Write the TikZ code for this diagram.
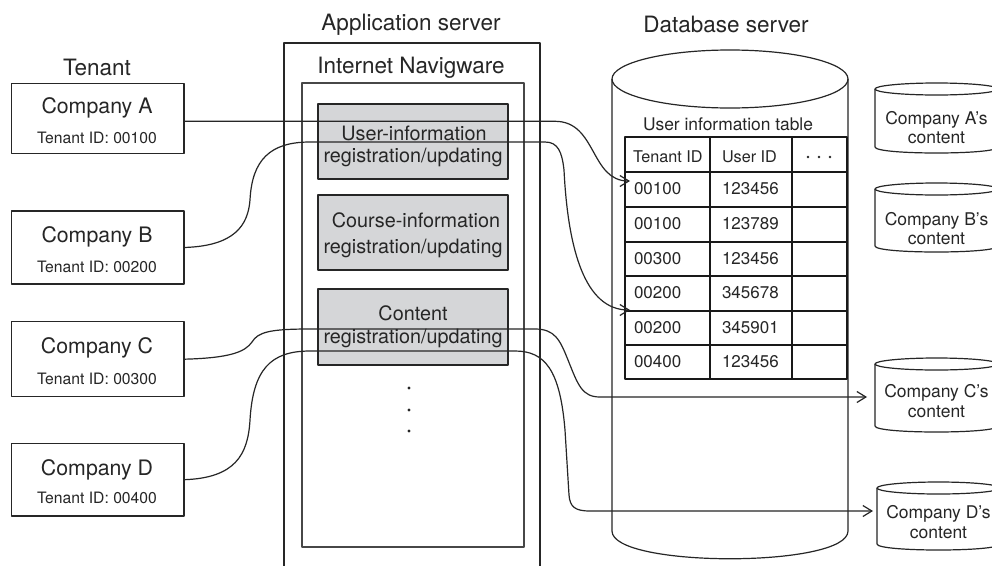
\documentclass[tikz,border=0pt]{standalone}
\usepackage{fontspec}
\setmainfont{TeX Gyre Heros}
\usetikzlibrary{arrows.meta}
\definecolor{ln}{HTML}{262626}
\definecolor{gfill}{HTML}{D5D6D8}
\begin{document}
\begin{tikzpicture}[x=1pt,y=-1pt, line join=round,
  every node/.style={inner sep=0pt, outer sep=0pt, text=ln},
  title/.style={font=\fontsize{22.5}{27}\selectfont, anchor=base},
  comp/.style={draw=ln, line width=1.2pt, minimum width=172.5pt},
  cname/.style={font=\fontsize{21.3}{25}\selectfont, anchor=base},
  cid/.style={font=\fontsize{15.7}{19}\selectfont, anchor=base},
  gbox/.style={draw=ln, fill=gfill, line width=1.3pt, minimum width=190pt, minimum height=75pt},
  gtext/.style={font=\fontsize{19.8}{24}\selectfont, anchor=base},
  tcell/.style={font=\fontsize{17}{20}\selectfont, anchor=base west},
  thead/.style={font=\fontsize{16.2}{20}\selectfont, anchor=base west},
  ctext/.style={font=\fontsize{17.5}{21}\selectfont, anchor=base},
  cyl/.style={draw=ln, line width=1.2pt},
  cylnode/.style={minimum width=123pt},
  conn/.style={draw=ln, line width=1.2pt},
  arr/.style={-{Straight Barb[length=9pt,width=11pt]}}
]
\clip (0,0) rectangle (992,565);
\fill[white] (0,0) rectangle (992,565);

% titles
\node[title] (tTen) at (97,75) {Tenant};
\node[title] (tApp) at (411,30) {Application server};
\node[title] (tNav) at (411,73) {Internet Navigware};
\node[title] (tDb) at (726,32) {Database server};

% tenant boxes
\node[comp, minimum height=70pt] (cA) at (97.75,118.3) {};
\node[cname] at (97,113) {Company A};
\node[cid] at (97,143) {Tenant ID: 00100};
\node[comp, minimum height=73pt] (cB) at (97.75,247.5) {};
\node[cname] at (97,242) {Company B};
\node[cid] at (97,272) {Tenant ID: 00200};
\node[comp, minimum height=75pt] (cC) at (97.75,359.2) {};
\node[cname] at (97,353) {Company C};
\node[cid] at (97,384) {Tenant ID: 00300};
\node[comp, minimum height=72.7pt] (cD) at (97.75,479.7) {};
\node[cname] at (97,475) {Company D};
\node[cid] at (97,503) {Tenant ID: 00400};

% application server
\draw[conn] (284,575) -- (284,43) -- (540,43) -- (540,575);
\node[draw=ln!85, line width=1.3pt, minimum width=222pt, minimum height=464pt] (nav) at (413,315) {};
\node[gbox] (g1) at (413,141.5) {};
\node[gtext] at (414,140) {User-information};
\node[gtext] at (413,162) {registration/updating};
\node[gbox] (g2) at (413,232.5) {};
\node[gtext] at (416,227) {Course-information};
\node[gtext] at (413,253) {registration/updating};
\node[gbox, minimum height=76pt] (g3) at (413,327) {};
\node[gtext] at (413,320) {Content};
\node[gtext] at (413,343) {registration/updating};
\fill[ln] (409,388) circle (1.6) (409,410) circle (1.6) (409,431) circle (1.6);

% database cylinder
\draw[cyl] (612,79) -- (612,531) .. controls (612,568) and (848,568) .. (848,531) -- (848,79);
\draw[cyl] (730,79) ellipse [x radius=118, y radius=29];
\node[font=\fontsize{17.4}{21}\selectfont, anchor=base] (tUit) at (728,130) {User information table};

% table
\draw[line width=1.9pt, draw=black!90] (625,137) rectangle (847,379)
  (710,137) -- (710,379) (792,137) -- (792,379)
  (625,172) -- (847,172) (625,207) -- (847,207) (625,242) -- (847,242)
  (625,276) -- (847,276) (625,311) -- (847,311) (625,345) -- (847,345);
\node[thead] at (633,162) {Tenant ID};
\node[thead] at (722,162) {User ID};
\fill[ln] (808,157) circle (1.4) (819,157) circle (1.4) (830,157) circle (1.4);
\node[tcell] at (634,194) {00100}; \node[tcell] at (722,194) {123456};
\node[tcell] at (634,229) {00100}; \node[tcell] at (722,229) {123789};
\node[tcell] at (634,264) {00300}; \node[tcell] at (722,264) {123456};
\node[tcell] at (634,298) {00200}; \node[tcell] at (722,298) {345678};
\node[tcell] at (634,333) {00200}; \node[tcell] at (722,333) {345901};
\node[tcell] at (634,367) {00400}; \node[tcell] at (722,367) {123456};
\coordinate (r1) at (630,181);
\coordinate (r4) at (630,310);

% small cylinders
\draw[cyl] (875,89) -- (875,147) .. controls (875,155) and (998,155) .. (998,147) -- (998,89);
\draw[cyl] (936.5,89) ellipse [x radius=61.5, y radius=6];
\node[cylnode, minimum height=70pt] (cylA) at (936.5,118) {};
\node[ctext] at (936.5,124) {Company A’s};
\node[ctext] at (936.5,143) {content};

\draw[cyl] (875,189) -- (875,246) .. controls (875,254) and (998,254) .. (998,246) -- (998,189);
\draw[cyl] (936.5,189) ellipse [x radius=61.5, y radius=6];
\node[cylnode, minimum height=69pt] (cylB) at (936.5,217.5) {};
\node[ctext] at (936.5,225) {Company B’s};
\node[ctext] at (936.5,244) {content};

\draw[cyl] (875,364) -- (875,426) .. controls (875,434) and (998,434) .. (998,426) -- (998,364);
\draw[cyl] (936.5,364) ellipse [x radius=61.5, y radius=6];
\node[cylnode, minimum height=74pt] (cylC) at (936.5,397) {};
\node[ctext] at (936.5,397) {Company C’s};
\node[ctext] at (936.5,417) {content};

\draw[cyl] (877,488) -- (877,544) .. controls (877,552) and (1000,552) .. (1000,544) -- (1000,488);
\draw[cyl] (938.5,488) ellipse [x radius=61.5, y radius=6];
\node[cylnode, minimum height=68pt] (cylD) at (938.5,516) {};
\node[ctext] at (938.5,518) {Company D’s};
\node[ctext] at (938.5,538) {content};

% connectors
\coordinate (dY) at (0,511);
\draw[conn,arr] ([yshift=-3pt]cA.east) -- (555,121.3) .. controls (597,121.3) and (590,181) .. (r1);
\draw[conn,arr] (cB.east) .. controls (235,246) and (248,225) .. (250,200)
  .. controls (252,160) and (270,142) .. (310,142) -- (545,142)
  .. controls (558,142) and (562,152) .. (564,170)
  .. controls (568,250) and (585,310) .. (r4);
\draw[conn,arr,shorten >=8pt] (cC.east) .. controls (230,358) and (245,352) .. (252,342)
  .. controls (258,332) and (270,329) .. (310,329) -- (535,329)
  .. controls (555,329) and (560,340) .. (568,360)
  .. controls (578,385) and (582,397) .. (600,397) -- (cylC.west);
\draw[conn,arr,shorten >=4pt] (cD.east) .. controls (235,478) and (248,455) .. (250,420)
  .. controls (253,370) and (270,351) .. (310,351) -- (515,351)
  .. controls (545,351) and (560,370) .. (565,430) -- (569,495)
  .. controls (570,507) and (575,511) .. (590,511) -- (cylD.west |- dY);
\end{tikzpicture}
\end{document}
